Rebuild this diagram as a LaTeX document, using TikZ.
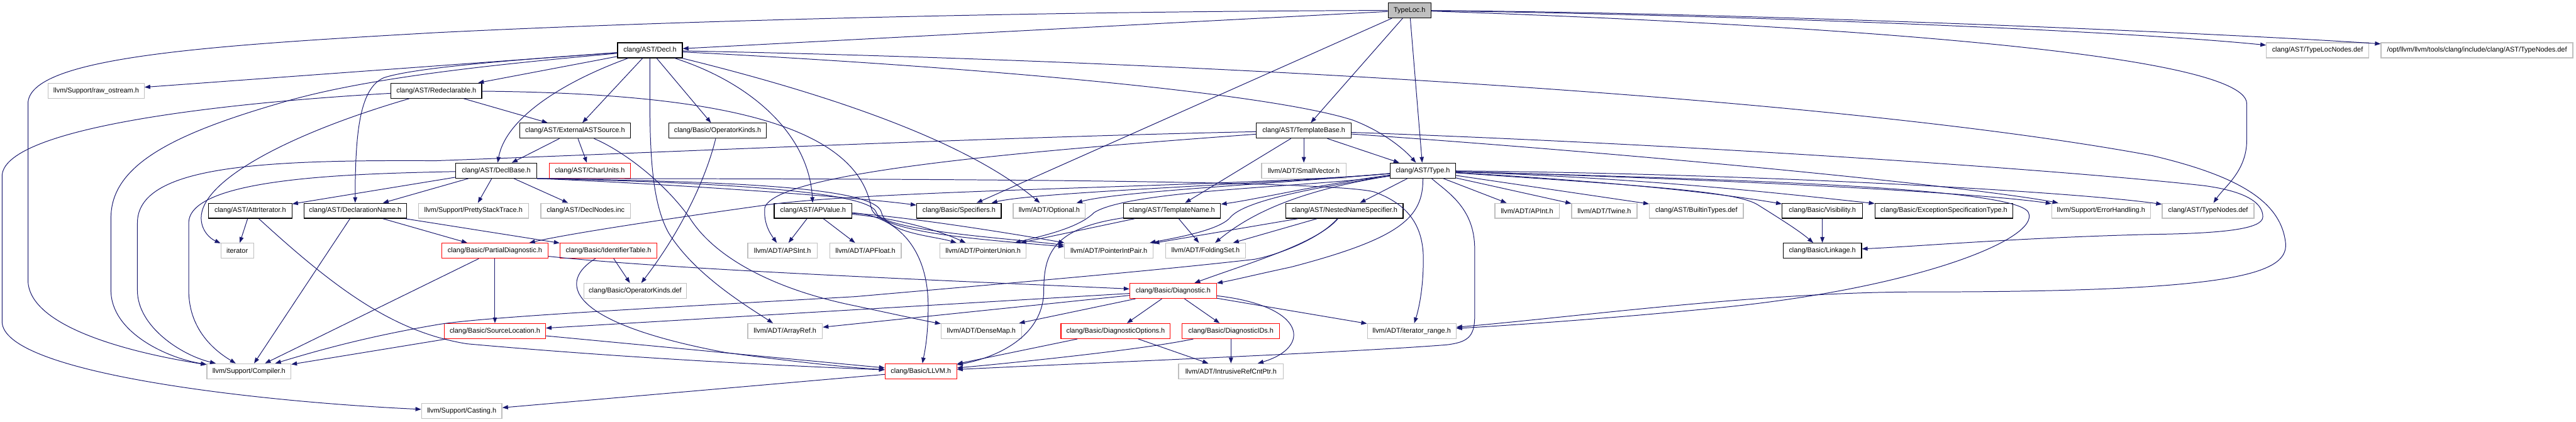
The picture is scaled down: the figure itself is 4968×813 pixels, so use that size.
\documentclass[tikz,border=0pt]{standalone}
\usepackage{fontspec}
\setmainfont{Liberation Sans}
\usetikzlibrary{arrows.meta}
\definecolor{edgecol}{RGB}{25,25,112}
\definecolor{grayb}{RGB}{191,191,191}
\definecolor{redb}{RGB}{255,0,0}
\tikzset{
  edge/.style={draw=edgecol, line width=1.2bp, -{Triangle[length=11bp,width=8bp]}},
  box/.style={rectangle, line width=1.5bp, minimum height=29bp, inner sep=0pt, font=\fontsize{13.3}{16}\selectfont, text=black},
  docbox/.style={box, draw=black},
  extbox/.style={box, draw=grayb},
  trbox/.style={box, draw=redb},
  rootbox/.style={box, draw=black, fill=grayb},
}
\begin{document}
\begin{tikzpicture}[x=1bp, y=-1bp]
\fill[white] (0,0) rectangle (4968,813);
\useasboundingbox (0,0) rectangle (4968,813);
% nodes
\node[rootbox, minimum width=83bp] (typeloc) at (2718.5,20) {TypeLoc.h};
\node[docbox, minimum width=125bp] (decl) at (1253.5,97) {clang/AST/Decl.h};
\node[extbox, minimum width=197bp] (tlnodes) at (4469.5,97) {clang/AST/TypeLocNodes.def};
\node[extbox, minimum width=370bp] (opt) at (4777,97) {/opt/llvm/llvm/tools/clang/include/clang/AST/TypeNodes.def};
\node[extbox, minimum width=185bp] (raw) at (185.5,175) {llvm/Support/raw\_ostream.h};
\node[docbox, minimum width=175bp] (redecl) at (841.5,175) {clang/AST/Redeclarable.h};
\node[docbox, minimum width=214bp] (extast) at (1109,252) {clang/AST/ExternalASTSource.h};
\node[docbox, minimum width=188bp] (opkinds) at (1384,252) {clang/Basic/OperatorKinds.h};
\node[docbox, minimum width=183bp] (tbase) at (2514.5,252) {clang/AST/TemplateBase.h};
\node[docbox, minimum width=156bp] (declbase) at (957,329) {clang/AST/DeclBase.h};
\node[trbox, minimum width=157bp] (charunits) at (1137.5,329) {clang/AST/CharUnits.h};
\node[extbox, minimum width=163bp] (smallvec) at (2514.5,329) {llvm/ADT/SmallVector.h};
\node[docbox, minimum width=126bp] (type) at (2744,329) {clang/AST/Type.h};
\node[docbox, minimum width=161bp] (attriter) at (482.5,406.5) {clang/AST/AttrIterator.h};
\node[docbox, minimum width=198bp] (declname) at (685,406.5) {clang/AST/DeclarationName.h};
\node[extbox, minimum width=212bp] (pretty) at (913,406.5) {llvm/Support/PrettyStackTrace.h};
\node[extbox, minimum width=173bp] (declnodes) at (1129.5,406.5) {clang/AST/DeclNodes.inc};
\node[docbox, minimum width=150bp] (apvalue) at (1568,406.5) {clang/AST/APValue.h};
\node[docbox, minimum width=163bp] (specifiers) at (1849.5,406.5) {clang/Basic/Specifiers.h};
\node[extbox, minimum width=139bp] (optional) at (2023.5,406.5) {llvm/ADT/Optional.h};
\node[docbox, minimum width=187bp] (tname) at (2260.5,406.5) {clang/AST/TemplateName.h};
\node[docbox, minimum width=226bp] (nns) at (2593,406.5) {clang/AST/NestedNameSpecifier.h};
\node[extbox, minimum width=124bp] (apint) at (2945,406.5) {llvm/ADT/APInt.h};
\node[extbox, minimum width=126bp] (twine) at (3094,406.5) {llvm/ADT/Twine.h};
\node[extbox, minimum width=181bp] (builtin) at (3271.5,406.5) {clang/AST/BuiltinTypes.def};
\node[docbox, minimum width=155bp] (visibility) at (3514.5,406.5) {clang/Basic/Visibility.h};
\node[docbox, minimum width=266bp] (exspec) at (3749,406.5) {clang/Basic/ExceptionSpecificationType.h};
\node[extbox, minimum width=190bp] (errhand) at (4052,406.5) {llvm/Support/ErrorHandling.h};
\node[extbox, minimum width=177bp] (typenodes) at (4258.5,406.5) {clang/AST/TypeNodes.def};
\node[extbox, minimum width=63bp] (iterator) at (457.5,483.5) {iterator};
\node[trbox, minimum width=205bp] (partdiag) at (954.5,483.5) {clang/Basic/PartialDiagnostic.h};
\node[trbox, minimum width=187bp] (identtab) at (1173.5,483.5) {clang/Basic/IdentifierTable.h};
\node[extbox, minimum width=134bp] (apsint) at (1509,483.5) {llvm/ADT/APSInt.h};
\node[extbox, minimum width=138bp] (apfloat) at (1669,483.5) {llvm/ADT/APFloat.h};
\node[extbox, minimum width=166bp] (ptrunion) at (1896,483.5) {llvm/ADT/PointerUnion.h};
\node[extbox, minimum width=171bp] (ptrintpair) at (2138.5,483.5) {llvm/ADT/PointerIntPair.h};
\node[extbox, minimum width=154bp] (foldingset) at (2325,483.5) {llvm/ADT/FoldingSet.h};
\node[docbox, minimum width=151bp] (linkage) at (3514.5,483.5) {clang/Basic/Linkage.h};
\node[extbox, minimum width=198bp] (opkindsdef) at (1225,561) {clang/Basic/OperatorKinds.def};
\node[trbox, minimum width=167bp] (diag) at (2262.5,561) {clang/Basic/Diagnostic.h};
\node[trbox, minimum width=195bp] (srcloc) at (954.5,638.5) {clang/Basic/SourceLocation.h};
\node[extbox, minimum width=144bp] (arrayref) at (1514,638.5) {llvm/ADT/ArrayRef.h};
\node[extbox, minimum width=155bp] (densemap) at (1892.5,638.5) {llvm/ADT/DenseMap.h};
\node[trbox, minimum width=211bp] (diagopts) at (2151.5,638.5) {clang/Basic/DiagnosticOptions.h};
\node[trbox, minimum width=188bp] (diagids) at (2374,638.5) {clang/Basic/DiagnosticIDs.h};
\node[extbox, minimum width=171bp] (itrange) at (2722.5,638.5) {llvm/ADT/iterator\_range.h};
\node[extbox, minimum width=162bp] (compiler) at (480,716) {llvm/Support/Compiler.h};
\node[trbox, minimum width=138bp] (llvm) at (1776,716) {clang/Basic/LLVM.h};
\node[extbox, minimum width=202bp] (intrusive) at (2374,716) {llvm/ADT/IntrusiveRefCntPtr.h};
\node[extbox, minimum width=155bp] (casting) at (890.5,793) {llvm/Support/Casting.h};
% TypeLoc.h
\draw[edge] (typeloc) -- (decl);
\draw[edge] (typeloc) .. controls (2000,22) and (1300,40) .. (840,63) .. controls (400,88) and (54,110) .. (54,200) -- (54,540) .. controls (54,630) and (250,680) .. (compiler);
\draw[edge] (typeloc) -- (tbase);
\draw[edge] (typeloc) -- (type);
\draw[edge] (typeloc) -- (specifiers);
\draw[edge] (typeloc) .. controls (3400,30) and (4100,60) .. (tlnodes);
\draw[edge] (typeloc) .. controls (3400,25) and (4300,65) .. (opt);
\draw[edge] (typeloc) .. controls (3300,40) and (4333,90) .. (4333,200) -- (4333,270) .. controls (4333,330) and (4290,360) .. (typenodes);
% Decl.h
\draw[edge] (decl) -- (raw);
\draw[edge] (decl) .. controls (1000,115) and (800,130) .. (740,150) .. controls (695,170) and (685,250) .. (declname);
\draw[edge] (decl) .. controls (950,125) and (700,150) .. (536,200) .. controls (330,260) and (214,320) .. (214,420) -- (214,560) .. controls (214,640) and (320,690) .. (compiler);
\draw[edge] (decl) -- (redecl);
\draw[edge] (decl) .. controls (1080,160) and (975,230) .. (declbase);
\draw[edge] (decl) -- (extast);
\draw[edge] (decl) -- (opkinds);
\draw[edge] (decl) .. controls (1450,160) and (1560,260) .. (apvalue);
\draw[edge] (decl) .. controls (1253,250) and (1250,380) .. (1290,450) .. controls (1340,530) and (1440,590) .. (arrayref);
\draw[edge] (decl) .. controls (1550,170) and (1850,260) .. (optional);
\draw[edge] (decl) .. controls (1900,130) and (2450,180) .. (2610,232) .. controls (2670,255) and (2710,290) .. (type);
\draw[edge] (decl) .. controls (2200,115) and (3500,180) .. (4150,300) .. controls (4320,340) and (4400,390) .. (4408,470) .. controls (4412,530) and (4300,563) .. (3700,563) .. controls (3400,563) and (3050,610) .. (itrange);
% Redeclarable.h
\draw[edge] (redecl) -- (extast);
\draw[edge] (redecl) .. controls (400,200) and (4,250) .. (4,340) -- (4,620) .. controls (4,720) and (500,775) .. (casting);
\draw[edge] (redecl) .. controls (550,260) and (388,350) .. (388,420) .. controls (388,445) and (405,460) .. (iterator);
\draw[edge] (redecl) .. controls (1350,180) and (1650,230) .. (1680,400) .. controls (1690,450) and (1900,462) .. (ptrintpair);
% ExternalASTSource.h
\draw[edge] (extast) -- (declbase);
\draw[edge] (extast) -- (charunits);
\draw[edge] (extast) .. controls (1200,290) and (1280,350) .. (1330,420) .. controls (1380,500) and (1500,560) .. (1650,590) .. controls (1720,605) and (1780,618) .. (densemap);
% OperatorKinds.h
\draw[edge] (opkinds) .. controls (1360,350) and (1310,450) .. (opkindsdef);
% DeclBase.h
\draw[edge] (declbase) -- (pretty);
\draw[edge] (declbase) -- (declnodes);
\draw[edge] (declbase) -- (attriter);
\draw[edge] (declbase) -- (declname);
\draw[edge] (declbase) .. controls (700,335) and (364,340) .. (364,430) -- (364,560) .. controls (364,640) and (420,680) .. (compiler);
\draw[edge] (declbase.south east) .. controls (1300,355) and (1650,380) .. (specifiers);
\draw[edge] (declbase.south east) .. controls (1400,350) and (1690,360) .. (1700,410) .. controls (1710,450) and (1800,455) .. (ptrunion);
\draw[edge] (declbase.south east) .. controls (1400,352) and (1680,370) .. (1690,410) .. controls (1700,445) and (1950,460) .. (ptrintpair);
\draw[edge] (declbase.south east) .. controls (1600,345) and (2550,345) .. (2650,370) .. controls (2720,395) and (2745,440) .. (2745,500) .. controls (2745,560) and (2735,600) .. (itrange);
% TemplateBase.h
\draw[edge] (tbase) -- (smallvec);
\draw[edge] (tbase) -- (type);
\draw[edge] (tbase) -- (tname);
\draw[edge] (tbase) .. controls (1900,265) and (1250,295) .. (840,310) .. controls (500,308) and (265,320) .. (265,430) -- (265,560) .. controls (265,630) and (350,685) .. (compiler);
\draw[edge] (tbase) .. controls (2000,290) and (1500,330) .. (1475,400) .. controls (1472,430) and (1485,450) .. (apsint);
\draw[edge] (tbase) .. controls (3200,300) and (3800,360) .. (errhand);
\draw[edge] (tbase) .. controls (3300,280) and (4000,330) .. (4250,358) .. controls (4340,370) and (4364,395) .. (4364,418) .. controls (4364,440) and (4300,450) .. (4150,452) .. controls (3900,458) and (3700,475) .. (linkage);
% Type.h
\draw[edge] (type) -- (nns);
\draw[edge] (type) -- (apint);
\draw[edge] (type) -- (twine);
\draw[edge] (type) -- (builtin);
\draw[edge] (type) .. controls (3100,350) and (3300,370) .. (visibility);
\draw[edge] (type) .. controls (3200,345) and (3450,375) .. (exspec);
\draw[edge] (type) .. controls (3300,345) and (3800,370) .. (errhand);
\draw[edge] (type) .. controls (3400,335) and (4000,370) .. (typenodes);
\draw[edge] (type) .. controls (3200,360) and (3350,370) .. (3390,395) .. controls (3430,420) and (3470,445) .. (linkage);
\draw[edge] (type) .. controls (3300,345) and (3890,360) .. (3912,410) .. controls (3935,460) and (3700,555) .. (3320,593) .. controls (3100,615) and (2900,628) .. (itrange);
\draw[edge] (type) .. controls (2745,420) and (2700,460) .. (2490,515) .. controls (2420,530) and (2380,540) .. (diag);
\draw[edge] (type) .. controls (2790,370) and (2844,400) .. (2844,480) -- (2844,610) .. controls (2844,650) and (2830,660) .. (2790,665) .. controls (2600,680) and (2100,700) .. (llvm);
\draw[edge] (type) .. controls (2550,360) and (2180,365) .. (2110,410) .. controls (2080,440) and (2010,455) .. (ptrunion);
\draw[edge] (type) .. controls (2550,360) and (2400,385) .. (2372,420) .. controls (2350,445) and (2260,460) .. (ptrintpair);
\draw[edge] (type) .. controls (2520,365) and (2420,405) .. (foldingset);
\draw[edge] (type) .. controls (2450,355) and (2000,370) .. (specifiers);
\draw[edge] (type) .. controls (2450,355) and (2150,370) .. (optional);
\draw[edge] (type) .. controls (2550,355) and (2420,385) .. (tname);
\draw[edge] (type) .. controls (2400,360) and (1700,365) .. (1480,395) .. controls (1300,420) and (1100,450) .. (partdiag);
% NestedNameSpecifier.h
\draw[edge] (nns) -- (ptrintpair);
\draw[edge] (nns) -- (foldingset);
\draw[edge] (nns) .. controls (2540,470) and (2400,510) .. (diag);
\draw[edge] (nns) .. controls (2545,460) and (2470,490) .. (2420,500) .. controls (2200,525) and (1900,550) .. (1650,572) .. controls (1300,592) and (950,610) .. (850,625) .. controls (700,650) and (600,680) .. (compiler);
% TemplateName.h
\draw[edge] (tname) -- (ptrunion);
\draw[edge] (tname) -- (foldingset);
\draw[edge] (tname) .. controls (2030,440) and (2013,490) .. (2013,560) .. controls (2013,650) and (1920,690) .. (llvm);
% APValue.h
\draw[edge] (apvalue) -- (apsint);
\draw[edge] (apvalue) -- (apfloat);
\draw[edge] (apvalue) .. controls (1720,420) and (1800,440) .. (ptrunion);
\draw[edge] (apvalue) .. controls (1750,418) and (1950,450) .. (ptrintpair);
\draw[edge] (apvalue) .. controls (1730,415) and (1790,480) .. (1790,590) .. controls (1790,650) and (1783,680) .. (llvm);
% AttrIterator.h / DeclarationName.h
\draw[edge] (attriter) -- (iterator);
\draw[edge] (attriter) .. controls (650,560) and (760,640) .. (900,663) .. controls (1200,690) and (1500,705) .. (llvm);
\draw[edge] (declname) -- (compiler);
\draw[edge] (declname) -- (partdiag);
\draw[edge] (declname) -- (identtab);
% PartialDiagnostic.h / IdentifierTable.h / SourceLocation.h
\draw[edge] (partdiag) -- (srcloc);
\draw[edge] (partdiag) -- (compiler);
\draw[edge] (partdiag) .. controls (1300,520) and (1800,540) .. (diag);
\draw[edge] (identtab) -- (opkindsdef);
\draw[edge] (identtab) .. controls (1080,540) and (1080,620) .. (1400,680) .. controls (1550,700) and (1650,710) .. (llvm);
\draw[edge] (srcloc) -- (compiler);
\draw[edge] (srcloc) -- (llvm);
% Diagnostic.h
\draw[edge] (diag) -- (srcloc);
\draw[edge] (diag) -- (arrayref);
\draw[edge] (diag) -- (densemap);
\draw[edge] (diag) -- (diagopts);
\draw[edge] (diag) -- (diagids);
\draw[edge] (diag) -- (itrange);
\draw[edge] (diag) .. controls (2520,590) and (2530,670) .. (intrusive);
\draw[edge] (diagopts) -- (llvm);
\draw[edge] (diagopts) -- (intrusive);
\draw[edge] (diagids) .. controls (2200,675) and (1950,700) .. (llvm);
\draw[edge] (diagids) -- (intrusive);
% others
\draw[edge] (visibility) -- (linkage);
\draw[edge] (llvm) -- (casting);
\end{tikzpicture}
\end{document}
